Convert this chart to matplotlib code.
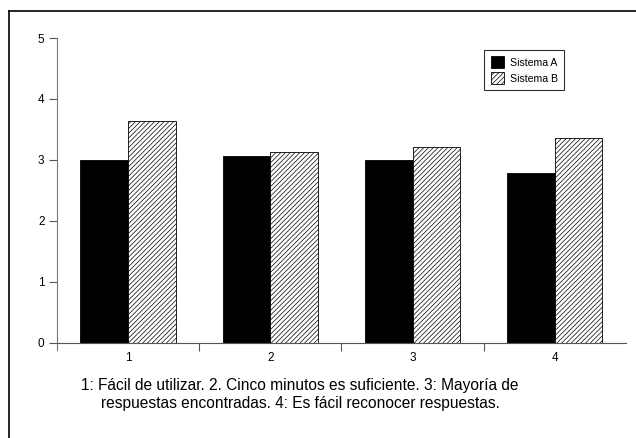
import matplotlib
matplotlib.use("Agg")
import matplotlib.pyplot as plt
from matplotlib.lines import Line2D
import numpy as np

plt.rcParams['font.family'] = ['Liberation Sans', 'DejaVu Sans']
plt.rcParams['hatch.linewidth'] = 0.5

preguntas = [1, 2, 3, 4]
sistema_a = [3.0, 3.07, 3.0, 2.79]
sistema_b = [3.64, 3.13, 3.21, 3.36]
etiquetas = ["1", "2", "3", "4"]
nota = ("1: Fácil de utilizar. 2. Cinco minutos es suficiente. 3: Mayoría de\n"
        "respuestas encontradas. 4: Es fácil reconocer respuestas.")

fig = plt.figure(figsize=(6.36, 4.38), dpi=100)
ax = fig.add_axes([0.0896, 0.2009, 0.8944, 0.7123])

x = np.array(preguntas, dtype=float)
w = 0.335
ax.bar(x - w / 2, sistema_a, w, color="black", edgecolor="black", linewidth=0.6,
       label="Sistema A")
ax.bar(x + w / 2, sistema_b, w, color="white", edgecolor="black", linewidth=0.6,
       hatch="///////", label="Sistema B")

ax.set_xlim(0.5, 4.5)
ax.set_ylim(-0.12, 5)
for s in ["top", "right"]:
    ax.spines[s].set_visible(False)
ax.spines["bottom"].set_position(("data", 0))
ax.spines["left"].set_bounds(-0.12, 5)
ax.spines["left"].set_color("#777777")
ax.spines["bottom"].set_color("#555555")

ax.set_yticks([0, 1, 2, 3, 4, 5])
ax.tick_params(axis="y", length=6, width=0.8, color="#555555", labelsize=8.5, pad=3)
ax.set_xticks([1.5, 2.5, 3.5])
ax.set_xticklabels([])
ax.tick_params(axis="x", length=6, width=0.8, color="#555555", direction="out")
ax.set_xticks(x, minor=True)
ax.set_xticklabels(etiquetas, minor=True)
ax.tick_params(axis="x", which="minor", length=0, labelsize=8.5, pad=7)

leg = ax.legend(loc="upper left", bbox_to_anchor=(0.742, 0.978), fontsize=7.6,
                frameon=True, fancybox=False, edgecolor="black",
                handlelength=1.3, handleheight=1.3, handletextpad=0.5,
                borderpad=0.6, labelspacing=0.4)
leg.get_frame().set_linewidth(0.8)

fig.text(0.472, 0.138, nota, ha="center", va="top", fontsize=11.2,
         linespacing=1.25, multialignment="center")

fig.add_artist(Line2D([0.0145, 1.0], [0.975, 0.975], color="black", lw=1.2,
                      transform=fig.transFigure))
fig.add_artist(Line2D([0.0145, 0.0145], [0.0, 0.975], color="black", lw=1.2,
                      transform=fig.transFigure))

fig.savefig("out.png", dpi=100)
